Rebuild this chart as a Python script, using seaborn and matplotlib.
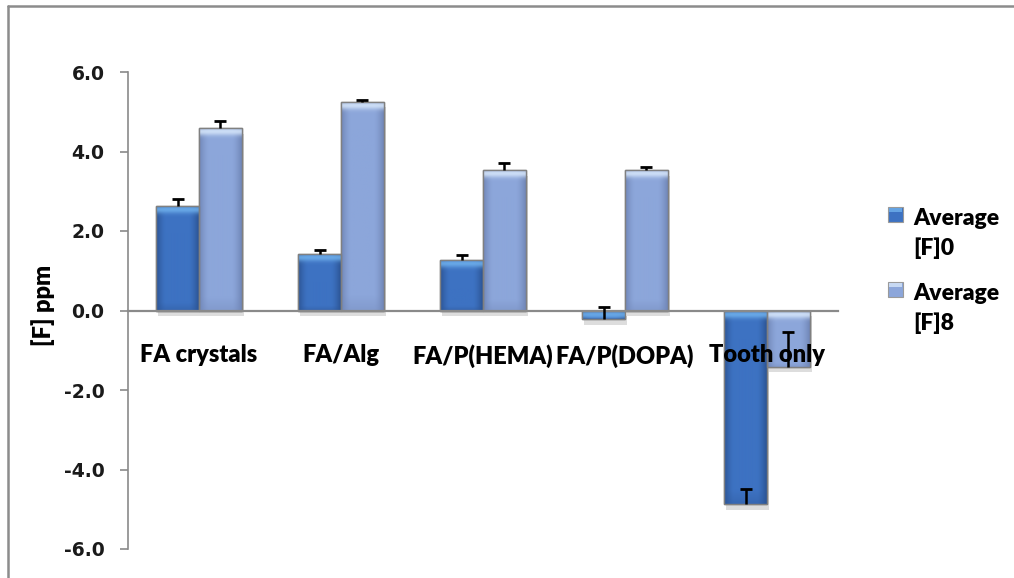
import numpy as np
import pandas as pd
import matplotlib
matplotlib.use("Agg")
import matplotlib.pyplot as plt
import matplotlib.patheffects as pe
from matplotlib.colors import to_rgb
from matplotlib.patches import Rectangle
from matplotlib.lines import Line2D
import seaborn as sns

# Fluoride release per sample type
categories = ["FA crystals", "FA/Alg", "FA/P(HEMA)", "FA/P(DOPA)", "Tooth only"]
series = ["Average [F]0", "Average [F]8"]
f0_values = [2.63, 1.43, 1.27, -0.22, -4.87]
f8_values = [4.59, 5.25, 3.53, 3.53, -1.41]
f0_errors = [0.17, 0.08, 0.13, 0.32, 0.38]
f8_errors = [0.17, 0.04, 0.18, 0.09, 0.86]
y_ticks = [-6, -4, -2, 0, 2, 4, 6]

colors = {"Average [F]0": "#3D72C2", "Average [F]8": "#8CA6DA"}
edge_dark = {"Average [F]0": "#2C5596", "Average [F]8": "#7187B8"}
highlight = {"Average [F]0": "#6FB0EC", "Average [F]8": "#D6E6FA"}

df = pd.DataFrame({
    "category": categories * 2,
    "series": [series[0]] * len(categories) + [series[1]] * len(categories),
    "value": f0_values + f8_values,
})
errors = {series[0]: f0_errors, series[1]: f8_errors}

sns.set_theme(style="white")
plt.rcParams["font.family"] = ["DejaVu Sans"]
plt.rcParams["font.weight"] = "bold"
plt.rcParams["axes.labelweight"] = "bold"

W, H = 1014, 578
fig = plt.figure(figsize=(W / 100, H / 100), dpi=100)
ax = fig.add_axes([128 / W, 1 - 549 / H, 710 / W, 477 / H])

sns.barplot(data=df, x="category", y="value", hue="series", order=categories,
            hue_order=series, palette=colors, width=0.6, errorbar=None,
            legend=False, ax=ax, zorder=2)


def gradient_image(name, nx=40, ny=200):
    """Bevelled fill: darker at the sides and bottom, bright band at the top."""
    base = np.array(to_rgb(colors[name]))
    dark = np.array(to_rgb(edge_dark[name]))
    hi = np.array(to_rgb(highlight[name]))
    u = np.linspace(-1, 1, nx)
    side = np.clip((np.abs(u) - 0.55) / 0.45, 0, 1) ** 1.5
    img = base[None, None, :] * (1 - side[None, :, None]) + dark[None, None, :] * side[None, :, None]
    img = np.repeat(img, ny, axis=0)
    v = np.linspace(0, 1, ny)[:, None, None]  # 0 = top
    band = np.exp(-((v * ny - 4) / 4.0) ** 2) * 0.85
    img = img * (1 - band) + hi[None, None, :] * band
    bottom = np.clip((v - 0.93) / 0.07, 0, 1) * 0.35
    img = img * (1 - bottom) + dark[None, None, :] * bottom
    return np.clip(img, 0, 1)


shadow = [pe.SimplePatchShadow(offset=(1.5, -4), shadow_rgbFace="#666666", alpha=0.22), pe.Normal()]
for name, container in zip(series, ax.containers):
    centers = []
    heights = []
    for bar in container:
        bar.set_edgecolor("#808080")
        bar.set_linewidth(1.0)
        bar.set_path_effects(shadow)
        x0, w = bar.get_x(), bar.get_width()
        y0, h = bar.get_y(), bar.get_height()
        lo, hi_ = min(y0, y0 + h), max(y0, y0 + h)
        px_h = max(int(abs(h) * 40), 8)
        img = gradient_image(name, ny=px_h)
        im = ax.imshow(img, extent=[x0, x0 + w, lo, hi_], origin="upper",
                       aspect="auto", zorder=2.1, interpolation="bilinear")
        im.set_clip_path(bar)
        outline = Rectangle((x0, y0), w, h, fill=False, edgecolor="#808080",
                            linewidth=1.0, zorder=2.2)
        ax.add_patch(outline)
        centers.append(x0 + w / 2)
        heights.append(h)
    errs = np.array(errors[name])
    eb = ax.errorbar(centers, heights, yerr=[np.zeros_like(errs), errs], fmt="none",
                     ecolor="black", elinewidth=1.8, capsize=4.5, capthick=2.0, zorder=3)
    eb[1][0].set_visible(False)

# Spines first: repositioning a spine rebuilds that axis' ticks
for side in ["top", "right"]:
    ax.spines[side].set_visible(False)
ax.spines["bottom"].set_position(("data", 0))
ax.spines["bottom"].set_color("#8a8a8a")
ax.spines["bottom"].set_linewidth(1.6)
ax.spines["bottom"].set_zorder(2.5)
ax.spines["left"].set_color("#8a8a8a")
ax.spines["left"].set_linewidth(1.2)
ax.patch.set_alpha(0)
ax.grid(False)

ax.set_axisbelow(False)
ax.set_xlim(-0.5, len(categories) - 0.5)
ax.set_ylim(-6, 6)
ax.tick_params(axis="y", direction="out", length=6, width=1.2, color="#8a8a8a",
               pad=11, left=True)
ax.tick_params(axis="x", length=0, pad=24)
ax.xaxis.set_zorder(4)
ax.set_xlabel("")
ax.set_ylabel("[F] ppm", fontfamily="Lato", fontweight="heavy", fontsize=17,
              color="black")
ax.yaxis.set_label_coords(-0.103, 0.51)

# Legend with wrapped labels, marker beside the first line
for i, name in enumerate(series):
    top = 207 + i * 75
    fig.add_artist(Rectangle((888 / W, 1 - (top + 15) / H), 15 / W, 15 / H,
                             transform=fig.transFigure, facecolor=colors[name],
                             edgecolor="#9a9a9a", linewidth=0.8))
    fig.add_artist(Rectangle((889 / W, 1 - (top + 5) / H), 13 / W, 4 / H,
                             transform=fig.transFigure, facecolor=highlight[name],
                             edgecolor="none", alpha=0.8))
    for j, line in enumerate(name.split(" ")):
        fig.text(913 / W, 1 - (top + 18 + j * 30) / H, line, family="Lato",
                 fontweight="heavy", fontsize=16.5, va="baseline", ha="left",
                 color="black")

# Chart frame
frame_kw = dict(transform=fig.transFigure, color="#8c8c8c", linewidth=1.8)
fig.add_artist(Line2D([8 / W, 1.0], [1 - 5.5 / H, 1 - 5.5 / H], **frame_kw))
fig.add_artist(Line2D([8 / W, 8 / W], [1 - 5.5 / H, 0.0], **frame_kw))

# Tick labels set last so nothing rebuilds them afterwards
ax.set_yticks(y_ticks, labels=[f"{t:.1f}" for t in y_ticks],
              fontfamily="DejaVu Sans", fontweight="bold", fontsize=13.5,
              color="#1a1a1a")
ax.set_xticks(range(len(categories)), labels=categories, fontfamily="Lato",
              fontweight="heavy", fontsize=17, color="black")

fig.savefig("out.png", dpi=100, facecolor="white")
